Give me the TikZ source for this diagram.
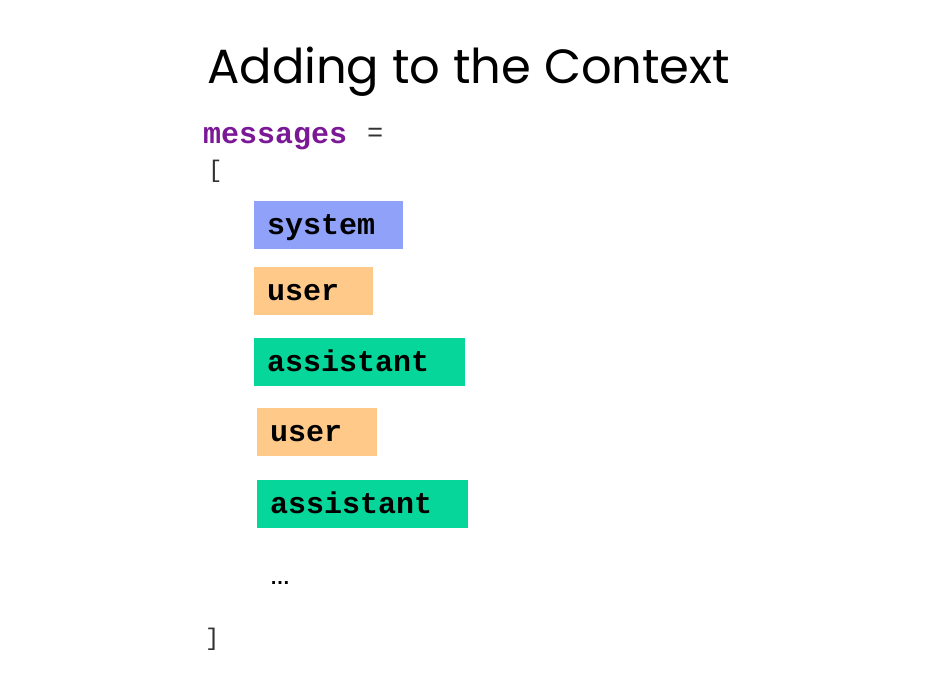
\documentclass[tikz,border=0pt]{standalone}
\usepackage{fontspec}
\setmainfont{Poppins}
\setmonofont{Liberation Mono}
\newfontfamily\dotsfont{Liberation Sans}
\definecolor{sysblue}{RGB}{143,161,248}
\definecolor{userorange}{RGB}{255,201,138}
\definecolor{asstgreen}{RGB}{6,214,153}
\definecolor{kwpurple}{RGB}{122,24,150}
\definecolor{punctgray}{RGB}{50,50,50}
\begin{document}
\begin{tikzpicture}[x=1pt,y=-1pt,
  rolebox/.style={rectangle, anchor=north west, inner sep=0pt, minimum height=48pt},
  roletext/.style={anchor=base west, inner sep=0pt,
    font=\fontsize{30}{30}\selectfont\ttfamily\bfseries, text=black},
  codetext/.style={anchor=base west, inner sep=0pt, text=punctgray, font=\fontsize{24}{24}\selectfont\ttfamily}]
\useasboundingbox[fill=white] (0,0) rectangle (945,698);
\node[anchor=base west, inner sep=0pt, font=\fontsize{48}{48}\selectfont] (title) at (207,84) {Adding to the Context};
\node[anchor=base west, inner sep=0pt, text=kwpurple, font=\fontsize{30}{30}\selectfont\ttfamily\bfseries] (msgs) at (203,143) {messages};
\node[codetext, font=\fontsize{27}{27}\selectfont\ttfamily] (eq) at (367,142) {=};
\node[codetext] (lbr) at (208,177) {[};
\node[rolebox, fill=sysblue, minimum width=149pt] (sys) at (254,201) {};
\node[roletext] (systxt) at (267,234) {system};
\node[rolebox, fill=userorange, minimum width=119pt] (u1) at (254,267) {};
\node[roletext] (u1txt) at (267,300) {user};
\node[rolebox, fill=asstgreen, minimum width=211pt] (a1) at (254,338) {};
\node[roletext] (a1txt) at (267,371) {assistant};
\node[rolebox, fill=userorange, minimum width=120pt] (u2) at (257,408) {};
\node[roletext] (u2txt) at (270,441) {user};
\node[rolebox, fill=asstgreen, minimum width=211pt] (a2) at (257,480) {};
\node[roletext] (a2txt) at (270,513) {assistant};
\node[anchor=base west, inner sep=0pt, text=black, font=\fontsize{20}{20}\dotsfont\bfseries] (dots) at (270,584) {…};
\node[codetext] (rbr) at (205,645) {]};
\end{tikzpicture}
\end{document}
